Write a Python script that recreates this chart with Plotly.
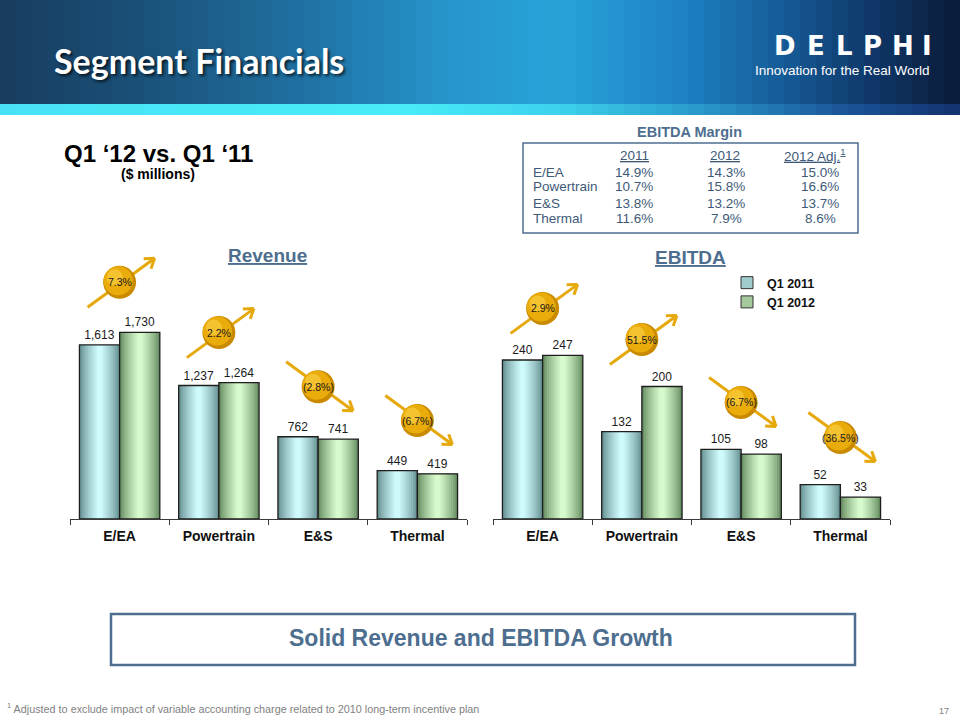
import math
import plotly.graph_objects as go

# ---------------- data ----------------
categories = ["E/EA", "Powertrain", "E&S", "Thermal"]
series_names = ["Q1 2011", "Q1 2012"]
revenue_2011 = [1613, 1237, 762, 449]
revenue_2012 = [1730, 1264, 741, 419]
ebitda_2011 = [240, 132, 105, 52]
ebitda_2012 = [247, 200, 98, 33]
revenue_change = ["7.3%", "2.2%", "(2.8%)", "(6.7%)"]
ebitda_change = ["2.9%", "51.5%", "(6.7%)", "(36.5%)"]

margin_segments = ["E/EA", "Powertrain", "E&S", "Thermal"]
margin_2011 = ["14.9%", "10.7%", "13.8%", "11.6%"]
margin_2012 = ["14.3%", "15.8%", "13.2%", "7.9%"]
margin_2012_adj = ["15.0%", "16.6%", "13.7%", "8.6%"]
margin_headers = ["2011", "2012", "2012 Adj.<sup>1</sup>"]

W, H = 960, 720
FONT = "Arial, Liberation Sans, sans-serif"
STEEL = "#4d6e8e"
TABLE_TXT = "#3e5a78"


def px(x):
    return x / W


def py(y):
    return 1 - y / H


def mix(c1, c2, t):
    return "rgb(%d,%d,%d)" % tuple(round(a + (b - a) * t) for a, b in zip(c1, c2))


def interp_stops(stops, x):
    for (x0, c0), (x1, c1) in zip(stops[:-1], stops[1:]):
        if x0 <= x <= x1:
            return mix(c0, c1, (x - x0) / (x1 - x0))
    return mix(stops[-1][1], stops[-1][1], 0)


fig = go.Figure()
shapes = []
annotations = []

# ---------------- header banner ----------------
banner_stops = [(0, (24, 60, 96)), (150, (26, 82, 122)), (300, (32, 112, 162)),
                (450, (38, 150, 205)), (560, (40, 162, 216)), (680, (30, 130, 196)),
                (780, (22, 92, 152)), (870, (15, 56, 106)), (960, (10, 26, 56))]
strip_stops = [(0, (72, 226, 246)), (400, (72, 236, 250)), (560, (60, 210, 236)),
               (700, (40, 152, 202)), (850, (26, 82, 150)), (960, (20, 50, 110))]
step = 16
for i in range(0, W, step):
    shapes.append(dict(type="rect", xref="paper", yref="paper",
                       x0=px(i), x1=px(min(i + step + 1, W)), y0=py(104), y1=py(0),
                       fillcolor=interp_stops(banner_stops, i + step / 2),
                       line=dict(width=0), layer="below"))
    shapes.append(dict(type="rect", xref="paper", yref="paper",
                       x0=px(i), x1=px(min(i + step + 1, W)), y0=py(115), y1=py(104),
                       fillcolor=interp_stops(strip_stops, i + step / 2),
                       line=dict(width=0), layer="below"))

annotations.append(dict(text="<b>Segment Financials</b>", xref="paper", yref="paper",
                        x=px(52), y=py(60), xanchor="left", yanchor="middle", showarrow=False,
                        font=dict(family="Lato, Open Sans, sans-serif", size=34, color="white",
                                  shadow="2px 2px 3px rgba(0,0,0,0.7)")))
logo_letters = ["D", "E", "L", "P", "H", "I"]
logo_x = [785, 816, 844, 872, 903, 927]
for letter, lx in zip(logo_letters, logo_x):
    annotations.append(dict(text=letter, xref="paper", yref="paper",
                            x=px(lx), y=py(46), xanchor="center", yanchor="middle",
                            showarrow=False,
                            font=dict(family="DejaVu Sans, sans-serif", size=26, color="white",
                                      weight=900)))
annotations.append(dict(text="Innovation for the Real World", xref="paper", yref="paper",
                        x=px(842), y=py(71), xanchor="center", yanchor="middle", showarrow=False,
                        font=dict(family=FONT, size=13.5, color="white")))

# ---------------- subtitle ----------------
annotations.append(dict(text="<b>Q1 \u201812 vs. Q1 \u201811</b>", xref="paper", yref="paper",
                        x=px(158), y=py(153), xanchor="center", yanchor="middle", showarrow=False,
                        font=dict(family=FONT, size=24, color="black")))
annotations.append(dict(text="<b>($ millions)</b>", xref="paper", yref="paper",
                        x=px(158), y=py(174), xanchor="center", yanchor="middle", showarrow=False,
                        font=dict(family=FONT, size=14, color="black")))

# ---------------- EBITDA margin table ----------------
annotations.append(dict(text="<b>EBITDA Margin</b>", xref="paper", yref="paper",
                        x=px(689), y=py(132), xanchor="center", yanchor="middle", showarrow=False,
                        font=dict(family=FONT, size=14.5, color=STEEL)))
shapes.append(dict(type="rect", xref="paper", yref="paper", x0=px(523), x1=px(858),
                   y0=py(233), y1=py(143), line=dict(color=STEEL, width=1.5),
                   fillcolor="rgba(0,0,0,0)"))
col_x = [634, 725, 815]
row_y = [172, 187, 203, 218]
for hx, htxt in zip(col_x, margin_headers):
    annotations.append(dict(text="<u>%s</u>" % htxt, xref="paper", yref="paper",
                            x=px(hx), y=py(155), xanchor="center", yanchor="middle",
                            showarrow=False, font=dict(family=FONT, size=13.5, color=TABLE_TXT)))
for r, seg in enumerate(margin_segments):
    annotations.append(dict(text=seg, xref="paper", yref="paper", x=px(531), y=py(row_y[r]),
                            xanchor="left", yanchor="middle", showarrow=False,
                            font=dict(family=FONT, size=13.5, color=TABLE_TXT)))
    for cx, col in zip([634, 726, 820], [margin_2011, margin_2012, margin_2012_adj]):
        annotations.append(dict(text=col[r], xref="paper", yref="paper", x=px(cx),
                                y=py(row_y[r]), xanchor="center", yanchor="middle",
                                showarrow=False,
                                font=dict(family=FONT, size=13.5, color=TABLE_TXT)))

# ---------------- bar charts ----------------
BAR_W = 0.405
N_LAYERS = 9
edge_2011, center_2011 = (104, 146, 148), (206, 250, 252)
edge_2012, center_2012 = (104, 142, 100), (214, 250, 204)

charts = [
    dict(xa="x", ya="y", vals=[revenue_2011, revenue_2012], rng=2400,
         dom_x=(70, 467), title="Revenue", title_x=267, title_y=255,
         changes=revenue_change, circle_off=50),
    dict(xa="x2", ya="y2", vals=[ebitda_2011, ebitda_2012], rng=391,
         dom_x=(493, 890), title="EBITDA", title_x=690, title_y=257,
         changes=ebitda_change, circle_off=47),
]
BASE_Y, TOP_Y = 519, 260

for ci, ch in enumerate(charts):
    for si, (vals, edge, center) in enumerate(zip(ch["vals"], [edge_2011, edge_2012],
                                                  [center_2011, center_2012])):
        bar_center = -BAR_W / 2 if si == 0 else BAR_W / 2
        for k in range(N_LAYERS):
            t = k / (N_LAYERS - 1)
            w = BAR_W * (1 - 0.86 * t)
            fig.add_trace(go.Bar(
                x=categories, y=vals, width=w, offset=bar_center - w / 2,
                xaxis=ch["xa"], yaxis=ch["ya"],
                marker=dict(color=mix(edge, center, t ** 0.8), line=dict(width=0)),
                name=series_names[si], showlegend=False, hoverinfo="skip"))
        fig.add_trace(go.Bar(
            x=categories, y=vals, width=BAR_W, offset=bar_center - BAR_W / 2,
            xaxis=ch["xa"], yaxis=ch["ya"],
            marker=dict(color="rgba(0,0,0,0)", line=dict(color="#1e1e1e", width=1.3)),
            text=vals, texttemplate="%{y:,}", textposition="outside", cliponaxis=False,
            textfont=dict(family=FONT, size=12, color="#1a1a1a"),
            showlegend=False, name=series_names[si]))

    # title
    annotations.append(dict(text="<b><u>%s</u></b>" % ch["title"], xref="paper", yref="paper",
                            x=px(ch["title_x"]), y=py(ch["title_y"]), xanchor="center",
                            yanchor="middle", showarrow=False,
                            font=dict(family=FONT, size=19, color=STEEL)))

    # change bubbles with arrows
    x0d, x1d = ch["dom_x"]
    cat_w = (x1d - x0d) / len(categories)
    scale = (BASE_Y - TOP_Y) / ch["rng"]
    for i, label in enumerate(ch["changes"]):
        v0, v1 = ch["vals"][0][i], ch["vals"][1][i]
        cx = x0d + cat_w * (i + 0.5)
        cy = BASE_Y - max(v0, v1) * scale - ch["circle_off"]
        s = 1 if v1 >= v0 else -1
        sx, sy = cx - 32, cy + 25 * s
        ex, ey = cx + 35, cy - 24 * s
        acol = "#e6a90c"
        shapes.append(dict(type="line", xref="paper", yref="paper", x0=px(sx), y0=py(sy),
                           x1=px(ex), y1=py(ey), line=dict(color=acol, width=3)))
        dx, dy = ex - sx, ey - sy
        L = (dx * dx + dy * dy) ** 0.5
        ux, uy = dx / L, dy / L
        hl = 11
        for ang in (0.6, -0.6):
            ca, sa = math.cos(ang), math.sin(ang)
            bx = -(ux * ca - uy * sa) * hl
            by = -(ux * sa + uy * ca) * hl
            shapes.append(dict(type="line", xref="paper", yref="paper", x0=px(ex), y0=py(ey),
                               x1=px(ex + bx), y1=py(ey + by),
                               line=dict(color=acol, width=3)))
        r = 16.5
        shapes.append(dict(type="circle", xref="paper", yref="paper",
                           x0=px(cx - r), x1=px(cx + r), y0=py(cy + r), y1=py(cy - r),
                           fillcolor="#c98a00", line=dict(width=0)))
        r2 = 14.5
        shapes.append(dict(type="circle", xref="paper", yref="paper",
                           x0=px(cx - r2 - 1.5), x1=px(cx + r2 - 1.5),
                           y0=py(cy + r2 - 1.5), y1=py(cy - r2 - 1.5),
                           fillcolor="#e9ac0a", line=dict(width=0)))
        r3 = 8
        shapes.append(dict(type="circle", xref="paper", yref="paper",
                           x0=px(cx - r3 - 5), x1=px(cx + r3 - 5),
                           y0=py(cy + r3 - 5), y1=py(cy - r3 - 5),
                           fillcolor="rgba(255,214,80,0.55)", line=dict(width=0)))
        annotations.append(dict(text=label, xref="paper", yref="paper", x=px(cx), y=py(cy),
                                xanchor="center", yanchor="middle", showarrow=False,
                                font=dict(family=FONT, size=10.5, color="#1a1a1a")))

# ---------------- legend-only traces ----------------
for si, (nm, edge, center) in enumerate(zip(series_names, [edge_2011, edge_2012],
                                            [center_2011, center_2012])):
    fig.add_trace(go.Bar(x=[None], y=[None], xaxis="x2", yaxis="y2",
                         name="<b>%s</b>" % nm, showlegend=True,
                         marker=dict(color=mix(edge, center, 0.55),
                                     line=dict(color="#333333", width=1))))

# ---------------- bottom box & footnote ----------------
shapes.append(dict(type="rect", xref="paper", yref="paper", x0=px(111), x1=px(855),
                   y0=py(665), y1=py(614), line=dict(color=STEEL, width=2.5),
                   fillcolor="rgba(0,0,0,0)"))
annotations.append(dict(text="<b>Solid Revenue and EBITDA Growth</b>", xref="paper",
                        yref="paper", x=px(481), y=py(638), xanchor="center", yanchor="middle",
                        showarrow=False, font=dict(family=FONT, size=23, color=STEEL)))
annotations.append(dict(text="<sup>1</sup> Adjusted to exclude impact of variable accounting "
                             "charge related to 2010 long-term incentive plan",
                        xref="paper", yref="paper", x=px(5), y=py(708), xanchor="left",
                        yanchor="middle", showarrow=False,
                        font=dict(family=FONT, size=10.8, color="#7f7f7f")))
annotations.append(dict(text="17", xref="paper", yref="paper", x=px(944), y=py(711),
                        xanchor="center", yanchor="middle", showarrow=False,
                        font=dict(family=FONT, size=9, color="#7f7f7f")))

# ---------------- axes / layout ----------------
ax_common = dict(type="category", categoryorder="array", categoryarray=categories,
                 range=[-0.5, 3.5], showline=True, linecolor="#3a3a3a", linewidth=1,
                 ticks="outside", tickson="boundaries", ticklen=5, tickcolor="#3a3a3a",
                 showgrid=False, zeroline=False, fixedrange=True, ticklabelstandoff=4,
                 tickfont=dict(family=FONT, size=14, color="#111111", weight="bold"))
fig.update_layout(
    width=W, height=H, margin=dict(l=0, r=0, t=0, b=0),
    paper_bgcolor="white", plot_bgcolor="rgba(0,0,0,0)",
    barmode="overlay", showlegend=True,
    xaxis=dict(domain=[px(70), px(467)], anchor="y", **ax_common),
    yaxis=dict(domain=[py(BASE_Y), py(TOP_Y)], range=[0, 2400], visible=False, anchor="x"),
    xaxis2=dict(domain=[px(493), px(890)], anchor="y2", **ax_common),
    yaxis2=dict(domain=[py(BASE_Y), py(TOP_Y)], range=[0, 391], visible=False, anchor="x2"),
    legend=dict(x=px(727), y=py(268), xanchor="left", yanchor="top",
                bgcolor="rgba(0,0,0,0)", font=dict(family=FONT, size=12.5, color="#111111"),
                traceorder="normal", itemwidth=30, tracegroupgap=0),
    shapes=shapes, annotations=annotations,
)

fig.write_html("out.html")
